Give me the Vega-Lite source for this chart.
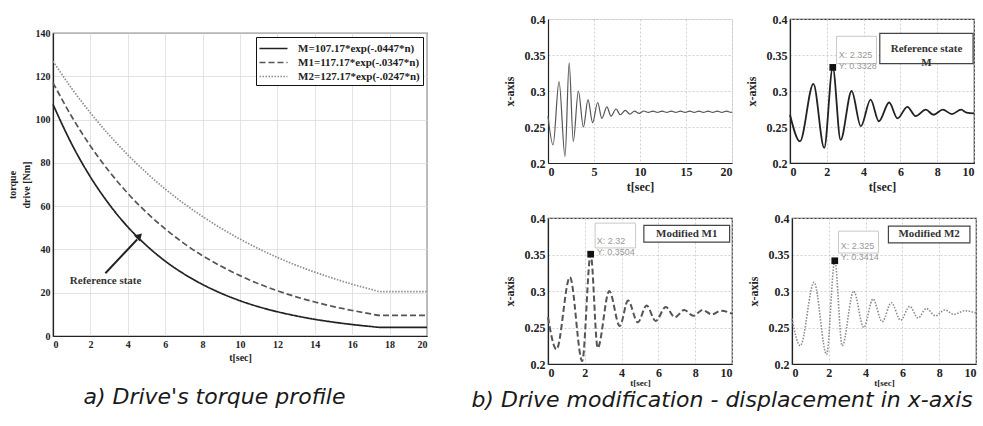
{
  "$schema": "https://vega.github.io/schema/vega-lite/v6.json",
  "background": "white",
  "padding": {"left": 6, "top": 12, "right": 0, "bottom": 0},
  "config": {
    "font": "Liberation Serif",
    "view": {"stroke": null},
    "axis": {
      "labelFont": "Liberation Serif", "labelFontWeight": "bold", "labelFontSize": 12, "labelColor": "#222",
      "titleFont": "Liberation Serif", "titleFontWeight": "bold", "titleFontSize": 12, "titleColor": "#222",
      "domainColor": "#222", "domainWidth": 1.2, "ticks": false, "labelPadding": 3, "titlePadding": 5,
      "gridColor": "#c4c4c4", "gridDash": [2, 2], "gridWidth": 0.8, "labelOverlap": false
    }
  },
  "datasets": {
    "torque": [
      {"t":0,"v":107.0,"s":"M"},{"t":1,"v":88.7,"s":"M"},{"t":2,"v":73.5,"s":"M"},{"t":3,"v":60.9,"s":"M"},{"t":4,"v":50.4,"s":"M"},{"t":5,"v":41.8,"s":"M"},{"t":6,"v":34.6,"s":"M"},{"t":7,"v":28.7,"s":"M"},{"t":8,"v":23.8,"s":"M"},{"t":9,"v":19.7,"s":"M"},{"t":10,"v":16.3,"s":"M"},{"t":11,"v":13.5,"s":"M"},{"t":12,"v":11.2,"s":"M"},{"t":13,"v":9.3,"s":"M"},{"t":14,"v":7.7,"s":"M"},{"t":15,"v":6.4,"s":"M"},{"t":16,"v":5.3,"s":"M"},{"t":17,"v":4.4,"s":"M"},{"t":17.5,"v":4.0,"s":"M"},{"t":18,"v":4.0,"s":"M"},{"t":19,"v":4.0,"s":"M"},{"t":20,"v":4.0,"s":"M"},
      {"t":0,"v":117.0,"s":"M1"},{"t":1,"v":101.4,"s":"M1"},{"t":2,"v":87.8,"s":"M1"},{"t":3,"v":76.1,"s":"M1"},{"t":4,"v":65.9,"s":"M1"},{"t":5,"v":57.1,"s":"M1"},{"t":6,"v":49.5,"s":"M1"},{"t":7,"v":42.8,"s":"M1"},{"t":8,"v":37.1,"s":"M1"},{"t":9,"v":32.2,"s":"M1"},{"t":10,"v":27.9,"s":"M1"},{"t":11,"v":24.1,"s":"M1"},{"t":12,"v":20.9,"s":"M1"},{"t":13,"v":18.1,"s":"M1"},{"t":14,"v":15.7,"s":"M1"},{"t":15,"v":13.6,"s":"M1"},{"t":16,"v":11.8,"s":"M1"},{"t":17,"v":10.2,"s":"M1"},{"t":17.5,"v":9.5,"s":"M1"},{"t":18,"v":9.5,"s":"M1"},{"t":19,"v":9.5,"s":"M1"},{"t":20,"v":9.5,"s":"M1"},
      {"t":0,"v":127.0,"s":"M2"},{"t":1,"v":114.4,"s":"M2"},{"t":2,"v":103.1,"s":"M2"},{"t":3,"v":92.9,"s":"M2"},{"t":4,"v":83.7,"s":"M2"},{"t":5,"v":75.4,"s":"M2"},{"t":6,"v":67.9,"s":"M2"},{"t":7,"v":61.2,"s":"M2"},{"t":8,"v":55.2,"s":"M2"},{"t":9,"v":49.7,"s":"M2"},{"t":10,"v":44.8,"s":"M2"},{"t":11,"v":40.3,"s":"M2"},{"t":12,"v":36.3,"s":"M2"},{"t":13,"v":32.7,"s":"M2"},{"t":14,"v":29.5,"s":"M2"},{"t":15,"v":26.6,"s":"M2"},{"t":16,"v":23.9,"s":"M2"},{"t":17,"v":21.6,"s":"M2"},{"t":17.5,"v":20.5,"s":"M2"},{"t":18,"v":20.5,"s":"M2"},{"t":19,"v":20.5,"s":"M2"},{"t":20,"v":20.5,"s":"M2"}
    ],
    "Mlong": [
      {"t":0,"v":0.265},{"t":0.55,"v":0.225},{"t":1.2,"v":0.313},{"t":1.85,"v":0.209},{"t":2.3,"v":0.339},{"t":2.75,"v":0.23},{"t":3.3,"v":0.3},{"t":3.85,"v":0.25},{"t":4.35,"v":0.288},{"t":4.85,"v":0.256},{"t":5.4,"v":0.284},{"t":5.85,"v":0.262},{"t":6.4,"v":0.278},{"t":6.85,"v":0.265},{"t":7.4,"v":0.275},{"t":7.85,"v":0.267},{"t":8.4,"v":0.273},{"t":8.9,"v":0.268},{"t":9.4,"v":0.272},{"t":9.9,"v":0.269},
      {"t":10.4,"v":0.2722},{"t":10.9,"v":0.2702},{"t":11.4,"v":0.2721},{"t":11.9,"v":0.2702},{"t":12.4,"v":0.2721},{"t":12.9,"v":0.2703},{"t":13.4,"v":0.2720},{"t":13.9,"v":0.2703},{"t":14.4,"v":0.2720},{"t":14.9,"v":0.2703},{"t":15.4,"v":0.2720},{"t":15.9,"v":0.2703},{"t":16.4,"v":0.2720},{"t":16.9,"v":0.2703},{"t":17.4,"v":0.2720},{"t":17.9,"v":0.2703},{"t":18.4,"v":0.2720},{"t":18.9,"v":0.2703},{"t":19.4,"v":0.2720},{"t":19.9,"v":0.2703},{"t":20,"v":0.271}
    ],
    "M": [
      {"t":0,"v":0.267},{"t":0.54,"v":0.23},{"t":1.27,"v":0.31},{"t":1.86,"v":0.221},{"t":2.325,"v":0.3328},{"t":2.75,"v":0.232},{"t":3.35,"v":0.3},{"t":3.85,"v":0.251},{"t":4.38,"v":0.288},{"t":4.83,"v":0.258},{"t":5.39,"v":0.284},{"t":5.84,"v":0.262},{"t":6.38,"v":0.278},{"t":6.83,"v":0.265},{"t":7.38,"v":0.274},{"t":7.8,"v":0.267},{"t":8.3,"v":0.274},{"t":8.8,"v":0.268},{"t":9.3,"v":0.274},{"t":9.6,"v":0.27},{"t":10,"v":0.269}
    ],
    "M1": [
      {"t":0,"v":0.264},{"t":0.46,"v":0.22},{"t":1.19,"v":0.319},{"t":1.86,"v":0.204},{"t":2.32,"v":0.3504},{"t":2.7,"v":0.222},{"t":3.33,"v":0.3},{"t":3.9,"v":0.252},{"t":4.35,"v":0.287},{"t":4.88,"v":0.257},{"t":5.36,"v":0.28},{"t":5.85,"v":0.259},{"t":6.4,"v":0.278},{"t":6.9,"v":0.264},{"t":7.4,"v":0.274},{"t":7.9,"v":0.266},{"t":8.4,"v":0.274},{"t":8.9,"v":0.268},{"t":9.4,"v":0.273},{"t":10,"v":0.269}
    ],
    "M2": [
      {"t":0,"v":0.262},{"t":0.45,"v":0.225},{"t":1.2,"v":0.312},{"t":1.88,"v":0.213},{"t":2.325,"v":0.3414},{"t":2.73,"v":0.225},{"t":3.35,"v":0.3},{"t":3.9,"v":0.25},{"t":4.4,"v":0.289},{"t":4.9,"v":0.258},{"t":5.4,"v":0.284},{"t":5.9,"v":0.26},{"t":6.4,"v":0.279},{"t":6.85,"v":0.263},{"t":7.3,"v":0.276},{"t":7.8,"v":0.266},{"t":8.3,"v":0.274},{"t":8.8,"v":0.268},{"t":9.4,"v":0.273},{"t":10,"v":0.27}
    ],
    "empty": []
  },
  "columns": 2,
  "align": "none",
  "spacing": 40,
  "concat": [
    {
      "resolve": {"scale": {"color": "independent", "strokeDash": "independent"}, "legend": {"color": "independent", "strokeDash": "independent"}},
      "spacing": 7,
      "vconcat": [
        {
          "width": 374, "height": 1,
          "data": {"name": "empty"},
          "mark": {"type": "point", "opacity": 0},
          "encoding": {}
        },
        {
          "width": 374, "height": 303,
          "view": {"stroke": "#222", "strokeWidth": 1.2},
          "encoding": {
            "x": {"field": "t", "type": "quantitative", "scale": {"domain": [0, 20], "nice": false},
                  "axis": {"values": [0,2,4,6,8,10,12,14,16,18,20], "title": "t[sec]", "labelFontSize": 10, "titleFontSize": 10, "titlePadding": 3, "gridDash": [], "gridColor": "#dcdcdc"}},
            "y": {"field": "v", "type": "quantitative", "scale": {"domain": [0, 140], "nice": false},
                  "axis": {"values": [0,20,40,60,80,100,120,140], "title": ["torque", "drive [Nm]"], "titleLineHeight": 14, "labelFontSize": 10, "titleFontSize": 10, "titlePadding": 4, "gridDash": [], "gridColor": "#dcdcdc"}}
          },
          "layer": [
            {
              "data": {"name": "torque"},
              "mark": {"type": "line", "strokeWidth": 1.7, "interpolate": "monotone"},
              "encoding": {
                "color": {"field": "s", "type": "nominal", "scale": {"domain": ["M","M1","M2"], "range": ["#222222","#555555","#8c8c8c"]},
                          "legend": {"orient": "top-right", "offset": 4, "title": null, "strokeColor": "#111", "fillColor": "white", "padding": 3,
                                     "labelFont": "Liberation Serif", "labelFontWeight": "bold", "labelFontSize": 11, "labelColor": "#222",
                                     "symbolType": "M-1.87,0L1.87,0", "symbolSize": 225, "symbolStrokeWidth": 1.7, "symbolOffset": 6, "labelOffset": 16, "rowPadding": 0,
                                     "labelExpr": "datum.label == 'M' ? 'M=107.17*exp(-.0447*n)' : datum.label == 'M1' ? 'M1=117.17*exp(-.0347*n)' : 'M2=127.17*exp(-.0247*n)'"}},
                "strokeDash": {"field": "s", "type": "nominal", "scale": {"domain": ["M","M1","M2"], "range": [[1,0],[6,3],[1.5,1.5]]},
                          "legend": {"orient": "top-right", "offset": 4, "title": null, "strokeColor": "#111", "fillColor": "white", "padding": 3,
                                     "labelFont": "Liberation Serif", "labelFontWeight": "bold", "labelFontSize": 11, "labelColor": "#222",
                                     "symbolType": "M-1.87,0L1.87,0", "symbolSize": 225, "symbolStrokeWidth": 1.7, "symbolOffset": 6, "labelOffset": 16, "rowPadding": 0,
                                     "labelExpr": "datum.label == 'M' ? 'M=107.17*exp(-.0447*n)' : datum.label == 'M1' ? 'M1=117.17*exp(-.0347*n)' : 'M2=127.17*exp(-.0247*n)'"}}
              }
            },
            {
              "data": {"values": [{"t": 2.8, "v": 29, "t2": 4.5, "v2": 44.6}]},
              "mark": {"type": "rule", "color": "#222", "strokeWidth": 2},
              "encoding": {"x2": {"field": "t2"}, "y2": {"field": "v2"}}
            },
            {
              "data": {"values": [{"t": 4.62, "v": 46.2}]},
              "mark": {"type": "point", "shape": "triangle-up", "filled": true, "color": "#222", "size": 70, "angle": 45, "opacity": 1},
              "encoding": {}
            },
            {
              "data": {"values": [{"t": 0.9, "v": 25.5, "label": "Reference state"}]},
              "mark": {"type": "text", "align": "left", "baseline": "middle", "font": "Liberation Serif", "fontWeight": "bold", "fontSize": 11, "color": "#333"},
              "encoding": {"text": {"field": "label"}}
            }
          ]
        }
      ],
      "title": {"text": "a) Drive's torque profile", "orient": "bottom", "anchor": "start", "dx": 77, "offset": 24, "font": "DejaVu Sans", "fontSize": 22, "fontStyle": "italic", "fontWeight": "normal", "color": "#1a1a1a"}
    },
    {
      "vconcat": [
        {
          "hconcat": [
            {
              "width": 184, "height": 144,
              "view": {"stroke": "#e0e0e0"},
              "data": {"name": "Mlong"},
              "mark": {"type": "line", "color": "#555", "strokeWidth": 1.2, "interpolate": "monotone"},
              "encoding": {
                "x": {"field": "t", "type": "quantitative", "scale": {"domain": [0, 20], "nice": false}, "axis": {"values": [0,5,10,15,20], "title": "t[sec]", "titlePadding": 4}},
                "y": {"field": "v", "type": "quantitative", "scale": {"domain": [0.2, 0.4], "nice": false, "zero": false}, "axis": {"values": [0.2,0.25,0.3,0.35,0.4], "format": ".2~f", "title": "x-axis", "titlePadding": 8}}
              }
            },
            {
              "width": 184, "height": 144,
              "view": {"stroke": "#333", "strokeWidth": 1.2},
              "encoding": {
                "x": {"field": "t", "type": "quantitative", "scale": {"domain": [0, 10], "nice": false}, "axis": {"values": [0,2,4,6,8,10], "title": "t[sec]", "titlePadding": 4}},
                "y": {"field": "v", "type": "quantitative", "scale": {"domain": [0.2, 0.4], "nice": false, "zero": false}, "axis": {"values": [0.2,0.25,0.3,0.35,0.4], "format": ".2~f", "title": "x-axis", "titlePadding": 8}}
              },
              "layer": [
                {
                  "data": {"name": "M"},
                  "mark": {"type": "line", "color": "#222", "strokeWidth": 1.8, "interpolate": "monotone"}
                },
                {
                  "data": {"values": [{"t": 2.53, "t2": 4.7, "v": 0.338, "v2": 0.376}]},
                  "mark": {"type": "rect", "fill": "white", "stroke": "#c8c8c8", "strokeWidth": 1},
                  "encoding": {"x2": {"field": "t2"}, "y2": {"field": "v2"}}
                },
                {
                  "data": {"values": [{"t": 4.88, "t2": 9.95, "v": 0.338, "v2": 0.38}]},
                  "mark": {"type": "rect", "fill": "white", "stroke": "#444", "strokeWidth": 1.2},
                  "encoding": {"x2": {"field": "t2"}, "y2": {"field": "v2"}}
                },
                {
                  "data": {"values": [{"t": 2.325, "v": 0.3328, "tip": ["X: 2.325", "Y: 0.3328"]}]},
                  "mark": {"type": "text", "align": "left", "baseline": "bottom", "dx": 6, "dy": -7, "font": "Liberation Sans", "fontSize": 9, "lineHeight": 11, "color": "#999"},
                  "encoding": {"text": {"field": "tip"}}
                },
                {
                  "data": {"values": [{"t": 7.42, "v": 0.359, "label": ["Reference state", "M"]}]},
                  "mark": {"type": "text", "align": "center", "baseline": "middle", "font": "Liberation Serif", "fontWeight": "bold", "fontSize": 11, "lineHeight": 14, "color": "#333"},
                  "encoding": {"text": {"field": "label"}}
                },
                {
                  "data": {"values": [{"t": 2.325, "v": 0.3328}]},
                  "mark": {"type": "point", "shape": "square", "filled": true, "color": "#111", "size": 45, "opacity": 1}
                }
              ]
            }
          ],
          "spacing": 9
        },
        {
          "hconcat": [
            {
              "width": 184, "height": 146,
              "view": {"stroke": "#444", "strokeWidth": 1.2},
              "encoding": {
                "x": {"field": "t", "type": "quantitative", "scale": {"domain": [0, 10], "nice": false}, "axis": {"values": [0,2,4,6,8,10], "title": "t[sec]", "titleFontSize": 9, "titlePadding": 0}},
                "y": {"field": "v", "type": "quantitative", "scale": {"domain": [0.2, 0.4], "nice": false, "zero": false}, "axis": {"values": [0.2,0.25,0.3,0.35,0.4], "format": ".2~f", "title": "x-axis", "titlePadding": 8}}
              },
              "layer": [
                {
                  "data": {"name": "M1"},
                  "mark": {"type": "line", "color": "#555", "strokeWidth": 2, "strokeDash": [6, 3], "interpolate": "monotone"}
                },
                {
                  "data": {"values": [{"t": 2.56, "t2": 4.76, "v": 0.359, "v2": 0.393}]},
                  "mark": {"type": "rect", "fill": "white", "stroke": "#c8c8c8", "strokeWidth": 1},
                  "encoding": {"x2": {"field": "t2"}, "y2": {"field": "v2"}}
                },
                {
                  "data": {"values": [{"t": 5.21, "t2": 9.87, "v": 0.367, "v2": 0.39}]},
                  "mark": {"type": "rect", "fill": "white", "stroke": "#444", "strokeWidth": 1.2},
                  "encoding": {"x2": {"field": "t2"}, "y2": {"field": "v2"}}
                },
                {
                  "data": {"values": [{"t": 2.32, "v": 0.3504, "tip": ["X: 2.32", "Y: 0.3504"]}]},
                  "mark": {"type": "text", "align": "left", "baseline": "bottom", "dx": 6, "dy": -8, "font": "Liberation Sans", "fontSize": 9, "lineHeight": 11, "color": "#999"},
                  "encoding": {"text": {"field": "tip"}}
                },
                {
                  "data": {"values": [{"t": 7.54, "v": 0.3785, "label": "Modified M1"}]},
                  "mark": {"type": "text", "align": "center", "baseline": "middle", "font": "Liberation Serif", "fontWeight": "bold", "fontSize": 11, "color": "#333"},
                  "encoding": {"text": {"field": "label"}}
                },
                {
                  "data": {"values": [{"t": 2.32, "v": 0.3504}]},
                  "mark": {"type": "point", "shape": "square", "filled": true, "color": "#111", "size": 45, "opacity": 1}
                }
              ]
            },
            {
              "width": 184, "height": 146,
              "view": {"stroke": "#444", "strokeWidth": 1.2},
              "encoding": {
                "x": {"field": "t", "type": "quantitative", "scale": {"domain": [0, 10], "nice": false}, "axis": {"values": [0,2,4,6,8,10], "title": "t[sec]", "titleFontSize": 9, "titlePadding": 0}},
                "y": {"field": "v", "type": "quantitative", "scale": {"domain": [0.2, 0.4], "nice": false, "zero": false}, "axis": {"values": [0.2,0.25,0.3,0.35,0.4], "format": ".2~f", "title": "x-axis", "titlePadding": 8}}
              },
              "layer": [
                {
                  "data": {"name": "M2"},
                  "mark": {"type": "line", "color": "#8a8a8a", "strokeWidth": 1.6, "strokeDash": [1.5, 1.5], "interpolate": "monotone"}
                },
                {
                  "data": {"values": [{"t": 2.53, "t2": 4.7, "v": 0.352, "v2": 0.382}]},
                  "mark": {"type": "rect", "fill": "white", "stroke": "#c8c8c8", "strokeWidth": 1},
                  "encoding": {"x2": {"field": "t2"}, "y2": {"field": "v2"}}
                },
                {
                  "data": {"values": [{"t": 5.24, "t2": 9.67, "v": 0.366, "v2": 0.389}]},
                  "mark": {"type": "rect", "fill": "white", "stroke": "#444", "strokeWidth": 1.2},
                  "encoding": {"x2": {"field": "t2"}, "y2": {"field": "v2"}}
                },
                {
                  "data": {"values": [{"t": 2.325, "v": 0.3414, "tip": ["X: 2.325", "Y: 0.3414"]}]},
                  "mark": {"type": "text", "align": "left", "baseline": "bottom", "dx": 6, "dy": -10, "font": "Liberation Sans", "fontSize": 9, "lineHeight": 11, "color": "#999"},
                  "encoding": {"text": {"field": "tip"}}
                },
                {
                  "data": {"values": [{"t": 7.45, "v": 0.3775, "label": "Modified M2"}]},
                  "mark": {"type": "text", "align": "center", "baseline": "middle", "font": "Liberation Serif", "fontWeight": "bold", "fontSize": 11, "color": "#333"},
                  "encoding": {"text": {"field": "label"}}
                },
                {
                  "data": {"values": [{"t": 2.325, "v": 0.3414}]},
                  "mark": {"type": "point", "shape": "square", "filled": true, "color": "#111", "size": 45, "opacity": 1}
                }
              ]
            }
          ],
          "spacing": 9
        }
      ],
      "spacing": 18,
      "title": {"text": "b) Drive modification - displacement in x-axis", "orient": "bottom", "anchor": "start", "dx": -31, "dy": -1, "offset": 3, "font": "DejaVu Sans", "fontSize": 22, "fontStyle": "italic", "fontWeight": "normal", "color": "#1a1a1a"}
    }
  ]
}
